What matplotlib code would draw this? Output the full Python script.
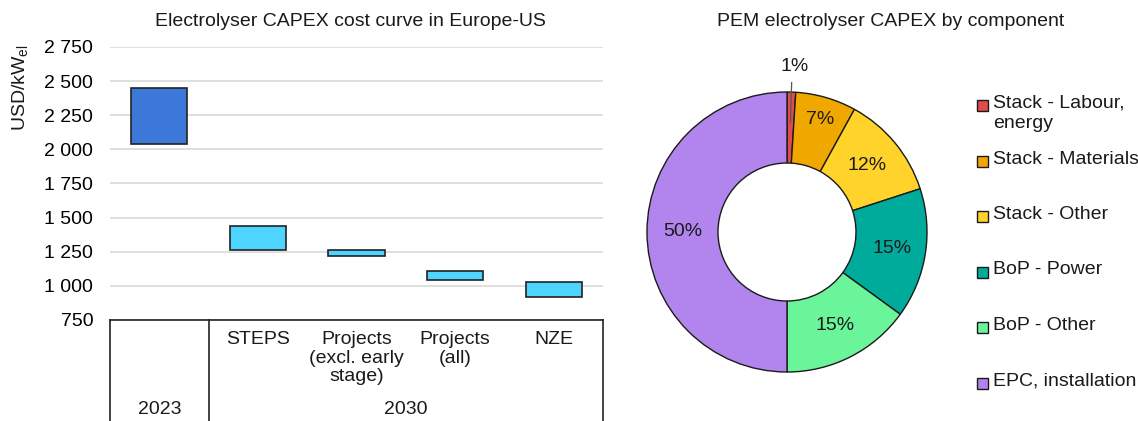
import matplotlib
matplotlib.use("Agg")
import matplotlib.pyplot as plt
from matplotlib.patches import Rectangle
import numpy as np

plt.rcParams['font.family'] = ['Liberation Sans', 'DejaVu Sans']
plt.rcParams['text.color'] = '#1a1a1a'

# ---------------- data ----------------
categories = ["2023", "STEPS", "Projects\n(excl. early\nstage)", "Projects\n(all)", "NZE"]
group_labels = ["2023", "2030"]
group_spans = [(0, 0), (1, 4)]
capex_low = [2040, 1260, 1220, 1040, 920]
capex_high = [2450, 1440, 1260, 1110, 1030]
bar_colors = ["#3C78D8", "#4DD5FF", "#4DD5FF", "#4DD5FF", "#4DD5FF"]
yticks = [750, 1000, 1250, 1500, 1750, 2000, 2250, 2500, 2750]
ytick_labels = ["750", "1 000", "1 250", "1 500", "1 750", "2 000", "2 250", "2 500", "2 750"]

components = ["Stack - Labour,\nenergy", "Stack - Materials", "Stack - Other",
              "BoP - Power", "BoP - Other", "EPC, installation"]
shares = [1, 7, 12, 15, 15, 50]
comp_colors = ["#E34A4B", "#F0A800", "#FFD32A", "#00AB9C", "#6BF59A", "#B285EE"]

W, H = 1138, 421
fig = plt.figure(figsize=(W / 100, H / 100), dpi=100)
FS = 14

# ---------------- left chart ----------------
ax_l, ax_r, ax_t, ax_b = 110, 603, 47, 320
ax = fig.add_axes([ax_l / W, 1 - ax_b / H, (ax_r - ax_l) / W, (ax_b - ax_t) / H])
x = np.arange(len(categories))
ax.bar(x, np.array(capex_high) - np.array(capex_low), bottom=capex_low, width=0.57,
       color=bar_colors, edgecolor="#222222", linewidth=1.2, zorder=3)
ax.set_xlim(-0.5, len(categories) - 0.5)
ax.set_ylim(750, 2750)
ax.set_yticks(yticks)
ax.set_yticklabels(ytick_labels, fontsize=FS)
ax.tick_params(axis='y', length=0, pad=12)
ax.tick_params(axis='x', length=0, labelbottom=False)
ax.yaxis.grid(True, color="#d9d9d9", linewidth=1.2, zorder=0)
for s in ["left", "right", "top"]:
    ax.spines[s].set_visible(False)
ax.spines["bottom"].set_color("#222222")
ax.spines["bottom"].set_linewidth(1.2)
fig.text(350 / W, 1 - 22 / H, "Electrolyser CAPEX cost curve in Europe-US", ha="center",
         va="center", fontsize=FS)

hpx = ax_b - ax_t
def ay(px):
    return (ax_b - px) / hpx

# category labels
for xi, lab in zip(x, categories):
    if xi == 0:
        continue
    ax.text(xi, ay(331), lab, ha="center", va="top", fontsize=FS,
            transform=ax.get_xaxis_transform(), linespacing=1.12)
# group labels and separators
for lab, (a, b) in zip(group_labels, group_spans):
    ax.text((a + b) / 2, ay(410), lab, ha="center", va="center", fontsize=FS,
            transform=ax.get_xaxis_transform())
seps = [-0.5] + [b + 0.5 for (a, b) in group_spans]
for sx in seps:
    ax.plot([sx, sx], [0, ay(H + 2)], color="#222222", linewidth=1.2,
            transform=ax.get_xaxis_transform(), clip_on=False)

fig.text(21 / W, 1 - 88 / H, "USD/kW$_{\\mathregular{el}}$", rotation=90,
         ha="center", va="center", fontsize=FS)

# ---------------- right chart (donut) ----------------
cx, cy, R = 787, 232, 140
half = 150
ax2 = fig.add_axes([(cx - half) / W, 1 - (cy + half) / H, 2 * half / W, 2 * half / H])
ring = 1 - 69 / 140
wedges, _ = ax2.pie(shares, colors=comp_colors, startangle=90, counterclock=False,
                    radius=1, wedgeprops=dict(width=ring, edgecolor="#1a1a1a", linewidth=1.0))
lim = half / R
ax2.set_xlim(-lim, lim)
ax2.set_ylim(-lim, lim)
ax2.set_aspect("equal")
ax2.axis("off")

label_dist = [None, 0.84, 0.745, 0.76, 0.75, 0.745]
for i, w in enumerate(wedges):
    ang = np.deg2rad((w.theta1 + w.theta2) / 2)
    txt = f"{shares[i]}%"
    if label_dist[i] is None:
        # leader label outside
        ax2.plot([np.cos(ang) * 0.78, np.cos(ang) * 0.78 + 0.01], [np.sin(ang) * 0.78, 1.11],
                 color="#555555", linewidth=0.9)
        ax2.text(np.cos(ang) * 0.78 + 0.03, 1.185, txt, ha="center", va="center", fontsize=FS)
    else:
        d = label_dist[i]
        ax2.text(np.cos(ang) * d, np.sin(ang) * d, txt, ha="center", va="center", fontsize=FS)

fig.text(891 / W, 1 - 22 / H, "PEM electrolyser CAPEX by component", ha="center",
         va="center", fontsize=FS)

# ---------------- legend ----------------
leg_y = [105.5, 161, 216.5, 272, 327.5, 383]
for lab, col, yy in zip(components, comp_colors, leg_y):
    fig.patches.append(Rectangle((977 / W, 1 - (yy + 5.5) / H), 11 / W, 11 / H,
                                 transform=fig.transFigure, facecolor=col,
                                 edgecolor="#1a1a1a", linewidth=1.0))
    fig.text(993 / W, 1 - (yy - 10.5) / H, lab, ha="left", va="top", fontsize=FS,
             linespacing=1.2)

fig.savefig("out.png", dpi=100)
